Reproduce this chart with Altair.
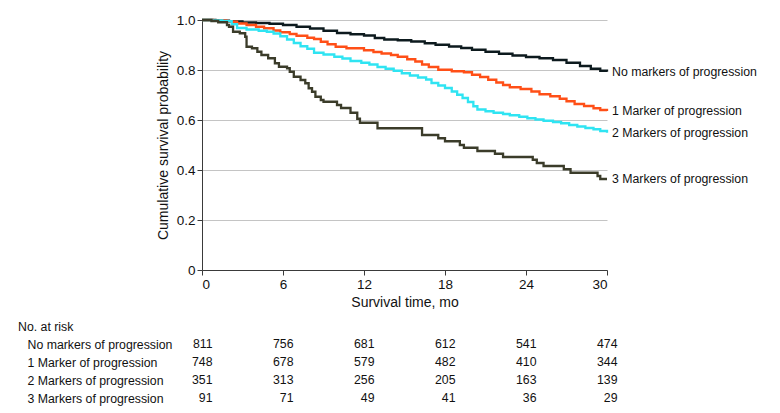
import altair as alt
import pandas as pd

groups = ["No markers of progression", "1 Marker of progression",
          "2 Markers of progression", "3 Markers of progression"]
colors = ["#0d1a1e", "#ff4f17", "#2fe4f2", "#3b3c2a"]

t_none = [0, 1.0, 2.0, 3.0, 4.0, 5.0, 6.0, 7.0, 8.0, 9.0, 10.0, 11.0, 12.0, 12.8, 13.5,
          14.5, 15.5, 16.5, 17.3, 18.3, 19.2, 20.0, 21.0, 22.0, 23.0, 24.0, 25.0, 26.0,
          27.0, 28.0, 28.8, 29.5, 30]
s_none = [1.0, 0.997, 0.994, 0.99, 0.988, 0.985, 0.98, 0.973, 0.966, 0.957, 0.948, 0.943,
          0.938, 0.928, 0.922, 0.919, 0.914, 0.907, 0.901, 0.894, 0.888, 0.881, 0.873,
          0.865, 0.858, 0.852, 0.847, 0.84, 0.829, 0.816, 0.805, 0.797, 0.793]

t_one = [0, 0.8, 1.8, 2.6, 3.3, 4.0, 4.6, 5.3, 5.8, 6.5, 7.0, 7.8, 8.3, 8.8, 9.3, 9.9,
         10.7, 12.0, 12.7, 13.3, 14.0, 14.5, 15.2, 15.8, 16.3, 16.8, 17.5, 18.5, 19.4,
         20.0, 20.6, 21.2, 21.8, 22.3, 22.8, 23.6, 24.4, 25.0, 25.8, 26.5, 27.0, 27.6,
         28.3, 29.0, 29.5, 30]
s_one = [1.0, 0.997, 0.993, 0.986, 0.98, 0.973, 0.967, 0.958, 0.951, 0.944, 0.937, 0.929,
         0.924, 0.913, 0.903, 0.893, 0.887, 0.879, 0.872, 0.866, 0.86, 0.853, 0.843,
         0.834, 0.822, 0.812, 0.801, 0.795, 0.791, 0.781, 0.772, 0.761, 0.75, 0.74,
         0.731, 0.724, 0.714, 0.703, 0.695, 0.685, 0.675, 0.664, 0.656, 0.647, 0.64,
         0.636]

t_two = [0, 0.7, 1.5, 2.2, 2.6, 3.3, 4.2, 4.8, 5.3, 5.8, 6.3, 6.8, 7.3, 7.8, 8.3, 9.0,
         9.8, 10.4, 11.0, 11.8, 12.4, 13.0, 13.6, 14.2, 14.8, 15.4, 16.0, 16.6, 17.0,
         17.5, 18.0, 18.5, 18.9, 19.3, 19.7, 20.1, 20.4, 21.0, 21.6, 22.3, 22.8, 23.5,
         24.1, 24.7, 25.3, 26.0, 26.6, 27.2, 27.8, 28.4, 29.0, 29.5, 30]
s_two = [1.0, 0.998, 0.995, 0.983, 0.968, 0.962, 0.957, 0.953, 0.946, 0.935, 0.922,
         0.908, 0.895, 0.885, 0.869, 0.862, 0.853, 0.846, 0.836, 0.829, 0.822, 0.812,
         0.805, 0.797, 0.787, 0.778, 0.77, 0.762, 0.748, 0.738, 0.728, 0.714, 0.701,
         0.688, 0.672, 0.655, 0.642, 0.635, 0.629, 0.624, 0.619, 0.613, 0.607, 0.602,
         0.597, 0.592, 0.587, 0.58, 0.574, 0.568, 0.563, 0.556, 0.549]

t_three = [0, 0.7, 1.2, 1.85, 2.0, 2.3, 2.8, 3.2, 3.3, 3.7, 4.1, 4.4, 4.9, 5.4, 5.7, 6.3,
           6.5, 6.8, 7.3, 7.65, 7.9, 8.15, 8.4, 8.8, 9.0, 10.0, 10.3, 11.0, 11.5, 11.7,
           13.0, 16.3, 17.5, 18.0, 19.1, 19.4, 20.4, 21.7, 22.3, 24.5, 24.8, 25.3, 26.8,
           27.3, 29.3, 29.5, 30]
s_three = [1.0, 0.996, 0.991, 0.98, 0.973, 0.953, 0.947, 0.933, 0.893, 0.887, 0.873,
           0.86, 0.847, 0.827, 0.813, 0.807, 0.793, 0.773, 0.76, 0.747, 0.727, 0.713,
           0.693, 0.68, 0.673, 0.66, 0.648, 0.629, 0.605, 0.589, 0.567, 0.54, 0.527,
           0.515, 0.5, 0.489, 0.476, 0.465, 0.452, 0.441, 0.428, 0.416, 0.403, 0.389,
           0.376, 0.364, 0.364]

risk_times = [0, 6, 12, 18, 24, 30]
risk_none = [811, 756, 681, 612, 541, 474]
risk_one = [748, 678, 579, 482, 410, 344]
risk_two = [351, 313, 256, 205, 163, 139]
risk_three = [91, 71, 49, 41, 36, 29]

FONT = "Liberation Sans"

curves = []
for g, ts, ss in zip(groups, [t_none, t_one, t_two, t_three],
                     [s_none, s_one, s_two, s_three]):
    for t, s in zip(ts, ss):
        curves.append({"group": g, "t": t, "s": s})
curves = pd.DataFrame(curves)

ends = pd.DataFrame({"group": groups,
                     "t": [t_none[-1], t_one[-1], t_two[-1], t_three[-1]],
                     "s": [s_none[-1], s_one[-1], s_two[-1], s_three[-1]]})

risk = []
for g, vals in zip(groups, [risk_none, risk_one, risk_two, risk_three]):
    for t, n in zip(risk_times, vals):
        risk.append({"group": g, "t": t, "n": n})
risk = pd.DataFrame(risk)

xscale = alt.Scale(domain=[0, 30], nice=False, zero=False)
color = alt.Color("group:N", scale=alt.Scale(domain=groups, range=colors), legend=None)

lines = alt.Chart(curves).mark_line(interpolate="step-after", strokeWidth=2.3).encode(
    x=alt.X("t:Q", scale=xscale,
            axis=alt.Axis(title="Survival time, mo", values=risk_times, grid=False,
                          tickSize=5, labelFontSize=13.5, titleFontSize=14,
                          titleFontWeight="normal", labelPadding=2, titlePadding=5,
                          domainColor="#3a3a3a", tickColor="#3a3a3a",
                          labelColor="#111", titleColor="#111")),
    y=alt.Y("s:Q", scale=alt.Scale(domain=[0, 1], nice=False),
            axis=alt.Axis(title="Cumulative survival probability",
                          values=[0, 0.2, 0.4, 0.6, 0.8, 1.0],
                          labelExpr="datum.value == 0 ? '0' : format(datum.value, '.1f')",
                          grid=True, gridColor="#c4c4c4", gridWidth=1,
                          tickSize=5, labelFontSize=13.5, titleFontSize=14,
                          titleFontWeight="normal", labelPadding=2, titlePadding=6,
                          domainColor="#3a3a3a", tickColor="#3a3a3a",
                          labelColor="#111", titleColor="#111")),
    color=color,
    detail="group:N",
)

labels = alt.Chart(ends).mark_text(align="left", baseline="middle", dx=5,
                                   fontSize=12.3, color="#111").encode(
    x=alt.X("t:Q", scale=xscale),
    y=alt.Y("s:Q"),
    text="group:N",
)

top = alt.layer(lines, labels).properties(width=405, height=250)

table = alt.Chart(risk).mark_text(align="right", baseline="middle", dx=10.5,
                                  fontSize=12.3, color="#111").encode(
    x=alt.X("t:Q", scale=xscale, axis=None),
    y=alt.Y("group:N", sort=groups, scale=alt.Scale(paddingInner=0, paddingOuter=0),
            axis=alt.Axis(title=None, domain=False, ticks=False, labelAlign="left",
                          labelPadding=175, labelFontSize=12.3, labelColor="#111",
                          labelLimit=300)),
    text="n:Q",
).properties(
    width=405, height=72,
    title=alt.TitleParams("No. at risk", anchor="start", frame="bounds", fontSize=12.3,
                          fontWeight="normal", color="#111", dx=-9, offset=2),
)

chart = alt.vconcat(top, table, spacing=10).properties(
    padding={"left": 10, "top": 5, "right": 5, "bottom": 5}
).configure(font=FONT).configure_view(stroke=None)

chart.save("out.html", embed_options={"renderer": "svg", "actions": False})
